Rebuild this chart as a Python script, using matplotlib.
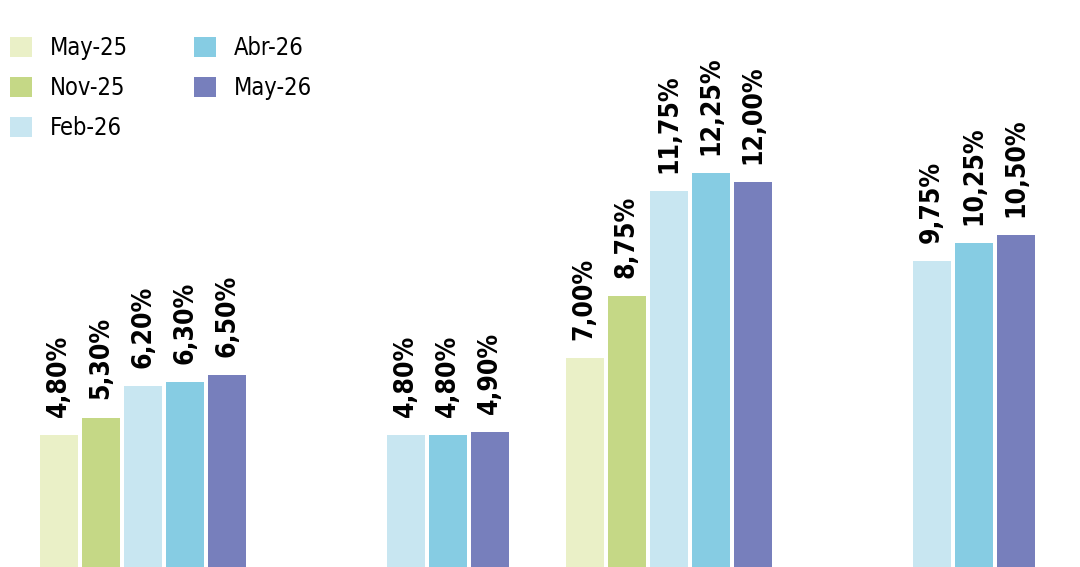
import numpy as np
import matplotlib.pyplot as plt

series = ["May-25", "Nov-25", "Feb-26", "Abr-26", "May-26"]
colors = ["#EAF0C7", "#C5D886", "#C8E6F1", "#86CCE3", "#777FBC"]
n_groups = 4
# values per series, one entry per group (nan = no bar)
may25 = [4.80, np.nan, 7.00, np.nan]
nov25 = [5.30, np.nan, 8.75, np.nan]
feb26 = [6.20, 4.80, 11.75, 9.75]
abr26 = [6.30, 4.80, 12.25, 10.25]
may26 = [6.50, 4.90, 12.00, 10.50]
values = [may25, nov25, feb26, abr26, may26]

plt.rcParams['font.family'] = ["DejaVu Sans"]
plt.rcParams['font.stretch'] = "condensed"

fig = plt.figure(figsize=(10.8, 5.67), dpi=100)
ax = fig.add_axes([0, 0, 1, 1])

x = np.arange(n_groups)
step = 0.16
width = 0.145
for i, (name, vals, c) in enumerate(zip(series, values, colors)):
    pos = x + (i - 2) * step
    ax.bar(pos, vals, width=width, color=c, label=name)
    for p, v in zip(pos, vals):
        if np.isnan(v):
            continue
        ax.annotate(f"{v:.2f}%".replace(".", ","), (p, v), xytext=(0, 13),
                    textcoords="offset points", rotation=90, ha="center",
                    va="bottom", fontsize=19, fontweight="bold",
                    fontstretch="condensed", color="black")

ax.set_xlim(-0.544, 3.563)
ax.set_ylim(1.05, 17.17)
ax.axis("off")

ax.legend(loc="upper left", bbox_to_anchor=(0.0093, 0.937), ncol=2, frameon=False,
          prop={"family": "DejaVu Sans", "stretch": "condensed", "size": 17},
          handlelength=0.93, handleheight=0.93, handletextpad=0.76,
          labelspacing=0.69, columnspacing=2.8, borderaxespad=0, borderpad=0)

fig.savefig("out.png", dpi=100)
